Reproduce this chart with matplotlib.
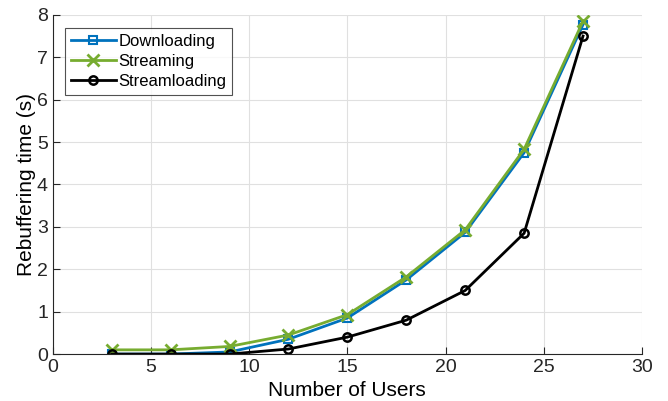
import matplotlib
matplotlib.use("Agg")
import matplotlib.pyplot as plt

users = [3, 6, 9, 12, 15, 18, 21, 24, 27]
downloading = [0.0, 0.0, 0.05, 0.35, 0.85, 1.75, 2.87, 4.75, 7.77]
streaming = [0.1, 0.1, 0.18, 0.45, 0.93, 1.82, 2.93, 4.83, 7.85]
streamloading = [0.0, 0.0, 0.0, 0.12, 0.4, 0.8, 1.5, 2.85, 7.5]

plt.rcParams['font.family'] = ['Liberation Sans', 'DejaVu Sans']

fig = plt.figure(figsize=(6.68, 4.01), dpi=100)
ax = fig.add_axes([0.079, 0.117, 0.882, 0.846])

ax.plot(users, downloading, color='#0072BD', lw=2, marker='s', ms=6,
        mfc='none', mew=1.5, label='Downloading')
ax.plot(users, streaming, color='#77AC30', lw=2, marker='x', ms=8,
        mew=2, label='Streaming')
ax.plot(users, streamloading, color='black', lw=2, marker='o', ms=6,
        mfc='none', mew=1.8, label='Streamloading')

ax.set_xlim(0, 30)
ax.set_ylim(0, 8)
ax.set_xticks(range(0, 31, 5))
ax.set_yticks(range(0, 9))
ax.grid(True, color='#e0e0e0', lw=0.8)
ax.set_axisbelow(True)
for s in ['top', 'right']:
    ax.spines[s].set_visible(False)
for s in ['left', 'bottom']:
    ax.spines[s].set_color('#262626')
    ax.spines[s].set_linewidth(0.8)
ax.tick_params(direction='in', labelsize=14, length=5, colors='#262626')
ax.set_xlabel('Number of Users', fontsize=15, labelpad=4)
ax.set_ylabel('Rebuffering time (s)', fontsize=15, labelpad=1)

leg = ax.legend(loc='upper left', bbox_to_anchor=(0.012, 0.975), fontsize=12,
                frameon=True, fancybox=False, edgecolor='#262626',
                borderpad=0.35, labelspacing=0.3, handlelength=2.7,
                handletextpad=0.15, borderaxespad=0.3)
leg.get_frame().set_linewidth(0.8)

fig.savefig('out.png', dpi=100)
